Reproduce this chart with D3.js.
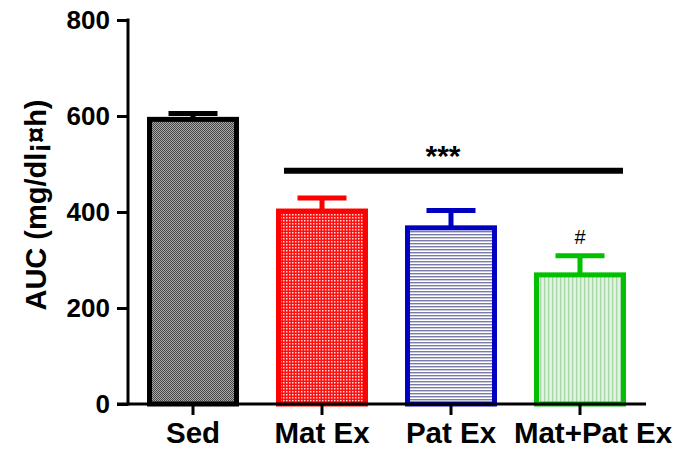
<!DOCTYPE html>
<html><head><meta charset="utf-8">
<script src="https://cdn.jsdelivr.net/npm/d3@7"></script>
<style>body{margin:0;background:#fff}</style>
</head><body>
<script>
const categories = ["Sed", "Mat Ex", "Pat Ex", "Mat+Pat Ex"];
const means = [593, 402, 367, 269];
const errors = [12, 27, 36, 40];
const yTicks = [0, 200, 400, 600, 800];
const colors = ["#000000", "#ff0000", "#0000c0", "#00c000"];
const annotations = [{text: "#", cat: "Mat+Pat Ex"}];
const sigBar = {from: "Mat Ex", to: "Mat+Pat Ex", value: 486, text: "***"};

const W = 677, H = 449;
const FONT = "Liberation Sans, Arial, Helvetica, sans-serif";
const svg = d3.select("body").append("svg").attr("width", W).attr("height", H);
const defs = svg.append("defs");

// patterns
const p0 = defs.append("pattern").attr("id","pat0").attr("patternUnits","userSpaceOnUse").attr("width",2).attr("height",2);
p0.append("rect").attr("width",2).attr("height",2).attr("fill","#a8a8a8");
p0.append("rect").attr("width",1).attr("height",1).attr("fill","#484848");
p0.append("rect").attr("x",1).attr("y",1).attr("width",1).attr("height",1).attr("fill","#484848");

const p1 = defs.append("pattern").attr("id","pat1").attr("patternUnits","userSpaceOnUse").attr("width",3).attr("height",3);
p1.append("rect").attr("width",3).attr("height",3).attr("fill","#ff1010");
p1.append("rect").attr("x",1).attr("y",1).attr("width",1.5).attr("height",1.5).attr("fill","#ffd8d8");

const p2 = defs.append("pattern").attr("id","pat2").attr("patternUnits","userSpaceOnUse").attr("width",4).attr("height",3);
p2.append("rect").attr("width",4).attr("height",3).attr("fill","#ffffff");
p2.append("rect").attr("width",4).attr("height",1.4).attr("fill","#7a7aaa");

const p3 = defs.append("pattern").attr("id","pat3").attr("patternUnits","userSpaceOnUse").attr("width",4).attr("height",4);
p3.append("rect").attr("width",4).attr("height",4).attr("fill","#e2f2e2");
p3.append("rect").attr("width",1.3).attr("height",4).attr("fill","#a8d8a8");

const y = d3.scaleLinear().domain([0, 800]).range([404, 20]);
const x = d3.scaleBand().domain(categories).range([128.5, 644.5]).paddingInner(0.287).paddingOuter(0.1435);

// bars
const g = svg.append("g");
categories.forEach((c, i) => {
  const sw = 5;
  const x0 = x(c) + sw/2, w = x.bandwidth() - sw;
  const yt = y(means[i]);
  const cx = x(c) + x.bandwidth()/2;
  const ye = y(means[i] + errors[i]);
  g.append("line").attr("x1", cx).attr("x2", cx).attr("y1", yt).attr("y2", ye)
    .attr("stroke", colors[i]).attr("stroke-width", 5);
  g.append("line").attr("x1", cx - 24.5).attr("x2", cx + 24.5).attr("y1", ye).attr("y2", ye)
    .attr("stroke", colors[i]).attr("stroke-width", 5);
  g.append("rect").attr("x", x0).attr("y", yt).attr("width", w).attr("height", y(0) - yt)
    .attr("fill", "url(#pat" + i + ")").attr("stroke", colors[i]).attr("stroke-width", sw);
});

// axes
const yAxis = d3.axisLeft(y).tickValues(yTicks).tickSize(11).tickPadding(7).tickSizeOuter(0);
const ya = svg.append("g").attr("transform", "translate(128,0)").call(yAxis);
ya.select(".domain").attr("stroke-width", 3).attr("d", "M0,18.5V405.5");
ya.selectAll(".tick line").attr("stroke-width", 3);
ya.selectAll("text").attr("font-family", FONT).attr("font-weight", "bold").attr("font-size", 26).attr("fill", "#000");

const xAxis = d3.axisBottom(x).tickSize(11).tickPadding(7).tickSizeOuter(0);
const xa = svg.append("g").attr("transform", "translate(0,404)").call(xAxis);
xa.select(".domain").attr("stroke-width", 3).attr("d", "M117,0H646");
xa.selectAll(".tick line").attr("stroke-width", 3);
xa.selectAll("text").attr("font-family", FONT).attr("font-weight", "bold").attr("font-size", 29.5).attr("fill", "#000");
xa.selectAll(".tick text").filter((d, i, n) => i === n.length - 1).attr("dx", 13);

// y label
svg.append("text").attr("transform", "translate(46,205) rotate(-90)").attr("text-anchor", "middle")
  .attr("font-family", FONT).attr("font-weight", "bold").attr("font-size", 29)
  .text("AUC (mg/dl¡¤h)");

// significance
svg.append("line").attr("x1", x(sigBar.from) + 8).attr("x2", x(sigBar.to) + x.bandwidth() - 3)
  .attr("y1", y(sigBar.value)).attr("y2", y(sigBar.value)).attr("stroke", "#000").attr("stroke-width", 6);
svg.append("text").attr("x", 443).attr("y", y(sigBar.value) - 5)
  .attr("text-anchor", "middle").attr("font-family", FONT).attr("font-weight", "bold").attr("font-size", 30)
  .text(sigBar.text);

annotations.forEach(a => {
  const i = categories.indexOf(a.cat);
  svg.append("text").attr("x", x(a.cat) + x.bandwidth()/2).attr("y", y(means[i] + errors[i]) - 12)
    .attr("text-anchor", "middle").attr("font-family", FONT).attr("font-size", 20)
    .text(a.text);
});
</script>
</body></html>
